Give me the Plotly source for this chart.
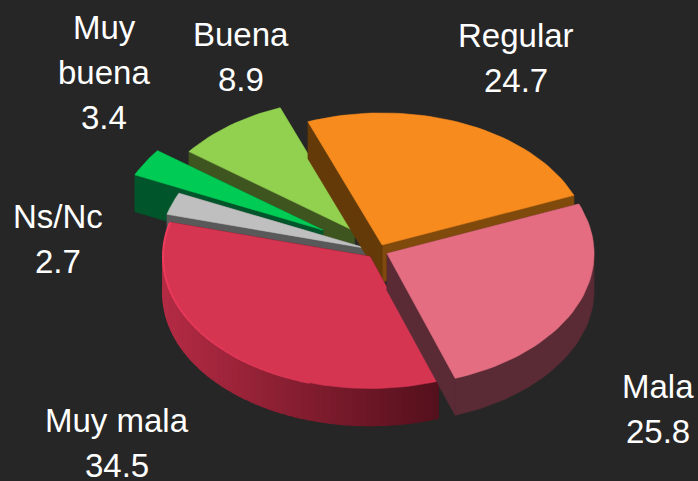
import math
import plotly.graph_objects as go

categories = ["Regular", "Mala", "Muy mala", "Ns/Nc", "Muy buena", "Buena"]
values = [24.7, 25.8, 34.5, 2.7, 3.4, 8.9]
label_lines = [["Regular"], ["Mala"], ["Muy mala"], ["Ns/Nc"], ["Muy", "buena"], ["Buena"]]
pulls = [0.05, 0.048, 0.057, 0.057, 0.31, 0.19]

top_colors = ["#F78B1E", "#E46D82", "#D63552", "#BFBFBF", "#00CC55", "#92D050"]
start_wall = ["#643A08", "#5A2B35", "#54101C", "#595959", "#00562A", "#3F5520"]
end_wall = ["#7F4A0B", "#5A2B35", "#54101C", "#595959", "#00562A", "#3F5520"]
outer_wall = ["#7F4A0B", "#5A2B35", None, "#595959", "#00562A", "#3F5520"]
label_pos = [(516, 57.5), (658, 408.5), (117, 442.5), (58, 238.5), (104, 72), (241, 56.5)]

BG = "#262626"
CX, CY, RX, RY, DEPTH = 378, 251, 207, 132, 37
START_DEG = -21.0
LINE_STEP = 45
# paint order, back to front
order = [5, 4, 3, 0, 2, 1]

total = sum(values)
angles = []
a = START_DEG
for v in values:
    b = a + v / total * 360
    angles.append((a, b))
    a = b


def pt(ax, ay, deg, dy=0):
    t = math.radians(deg)
    return ax + RX * math.sin(t), ay - RY * math.cos(t) + dy


def mix(c1, c2, f):
    p = [int(c1[i:i + 2], 16) for i in (1, 3, 5)]
    q = [int(c2[i:i + 2], 16) for i in (1, 3, 5)]
    return "#%02X%02X%02X" % tuple(round(p[i] + (q[i] - p[i]) * f) for i in range(3))


fig = go.Figure()


def poly(points, color, lw=0.6):
    xs = [p[0] for p in points] + [points[0][0]]
    ys = [p[1] for p in points] + [points[0][1]]
    fig.add_trace(go.Scatter(x=xs, y=ys, mode="lines", fill="toself", fillcolor=color,
                             line=dict(color=color, width=lw), hoverinfo="skip",
                             showlegend=False))


for i in order:
    s, e = angles[i]
    mid = math.radians((s + e) / 2)
    ax = CX + pulls[i] * RX * math.sin(mid)
    ay = CY - pulls[i] * RY * math.cos(mid)
    n = max(2, int((e - s) / 2))
    steps = [s + (e - s) * k / n for k in range(n + 1)]
    # radial walls
    poly([(ax, ay), pt(ax, ay, e), pt(ax, ay, e, DEPTH), (ax, ay + DEPTH)], end_wall[i])
    poly([(ax, ay), pt(ax, ay, s), pt(ax, ay, s, DEPTH), (ax, ay + DEPTH)], start_wall[i])
    # outer wall, front half only
    lo, hi = max(s, 90), min(e, 270)
    if hi > lo:
        m = max(2, int((hi - lo) / 2))
        front = [lo + (hi - lo) * k / m for k in range(m + 1)]
        if outer_wall[i]:
            poly([pt(ax, ay, d) for d in front] + [pt(ax, ay, d, DEPTH) for d in reversed(front)],
                 outer_wall[i])
        else:
            x0 = ax - RX
            x1 = pt(ax, ay, s)[0]
            for k in range(m):
                xm = pt(ax, ay, (front[k] + front[k + 1]) / 2)[0]
                col = mix("#B42B44", "#54101C", max(0, min(1, (xm - x0) / (x1 - x0))))
                poly([pt(ax, ay, front[k]), pt(ax, ay, front[k + 1]),
                      pt(ax, ay, front[k + 1], DEPTH), pt(ax, ay, front[k], DEPTH)], col, lw=1.6)
    # top
    poly([(ax, ay)] + [pt(ax, ay, d) for d in steps], top_colors[i])
    if categories[i] == "Muy mala":
        rim = [d for d in steps if d > 195]
        for k in range(len(rim) - 1):
            col = mix(top_colors[i], "#F43C60", k / (len(rim) - 2))
            p, q = pt(ax, ay, rim[k]), pt(ax, ay, rim[k + 1])
            fig.add_trace(go.Scatter(x=[p[0], q[0]], y=[p[1], q[1]], mode="lines",
                                     line=dict(color=col, width=2), hoverinfo="skip",
                                     showlegend=False))

for i, cat in enumerate(categories):
    lines = label_lines[i] + [str(values[i])]
    for j, line in enumerate(lines):
        y = label_pos[i][1] + (j - (len(lines) - 1) / 2) * LINE_STEP
        fig.add_annotation(x=label_pos[i][0], y=y, xref="x", yref="y", text=line,
                           showarrow=False, xanchor="center", yanchor="middle", align="center",
                           font=dict(family="Liberation Sans", size=33, color="#FFFFFF"))

fig.update_layout(width=698, height=481, margin=dict(l=0, r=0, t=0, b=0),
                  paper_bgcolor=BG, plot_bgcolor=BG, showlegend=False,
                  xaxis=dict(range=[0, 698], visible=False, fixedrange=True),
                  yaxis=dict(range=[481, 0], visible=False, fixedrange=True))
fig.write_html("out.html", config={"displayModeBar": False},
               post_script="document.body.style.margin='0';document.documentElement.style.background='#262626';document.body.style.overflow='hidden';")
